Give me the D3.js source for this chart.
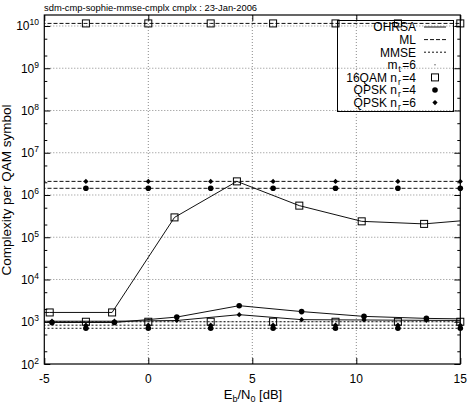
<!DOCTYPE html>
<html>
<head>
<meta charset="utf-8">
<script src="https://cdn.jsdelivr.net/npm/d3@7"></script>
<style>
  body { margin: 0; background: #fff; }
  text { font-family: "Liberation Sans", Arial, sans-serif; fill: #000; }
</style>
</head>
<body>
<div id="chart"></div>
<script>
// ---- data ----
const ebnoGrid = [-6, -3, 0, 3, 6, 9, 12, 15];
const ml16qam   = [1.15e10, 1.15e10, 1.15e10, 1.15e10, 1.15e10, 1.15e10, 1.15e10, 1.15e10];
const mlQpsk4   = [1.44e6, 1.44e6, 1.44e6, 1.44e6, 1.44e6, 1.44e6, 1.44e6, 1.44e6];
const mlQpsk6   = [2.1e6, 2.1e6, 2.1e6, 2.1e6, 2.1e6, 2.1e6, 2.1e6, 2.1e6];
const mmse16qam = [1.0e3, 1.0e3, 1.0e3, 1.0e3, 1.0e3, 1.0e3, 1.0e3, 1.0e3];
const mmseQpsk4 = [700, 700, 700, 700, 700, 700, 700, 700];
const mmseQpsk6 = [830, 830, 830, 830, 830, 830, 830, 830];

const ebno16qam  = [-7.74, -4.74, -1.74, 1.26, 4.26, 7.26, 10.26, 13.26, 16.26];
const ohrsa16qam = [1.66e3, 1.66e3, 1.66e3, 2.95e5, 2.1e6, 5.6e5, 2.38e5, 2.07e5, 2.75e5];
const ebnoQpsk   = [-7.63, -4.63, -1.63, 1.37, 4.37, 7.37, 10.37, 13.37, 16.37];
const ohrsaQpsk4 = [960, 960, 960, 1.29e3, 2.4e3, 1.74e3, 1.34e3, 1.2e3, 1.15e3];
const ohrsaQpsk6 = [1.03e3, 1.03e3, 1.03e3, 1.07e3, 1.47e3, 1.12e3, 1.1e3, 1.08e3, 1.07e3];

const xTicks = [-5, 0, 5, 10, 15];
const yTickExps = [2, 3, 4, 5, 6, 7, 8, 9, 10];
const yMinorMult = [2, 5];
const legendRows = ["OHRSA", "ML", "MMSE", "mt=6", "16QAM nr=4", "QPSK nr=4", "QPSK nr=6"];

const W = 474, H = 404;
const pLeft = 44.3, pRight = 460.3, pTop = 15, pBottom = 364;

const svg = d3.select("#chart").append("svg")
  .attr("width", W).attr("height", H)
  .attr("viewBox", `0 0 ${W} ${H}`);

const x = d3.scaleLinear().domain([-5, 15]).range([pLeft, pRight]);
const y = d3.scaleLog().domain([1e2, Math.pow(10, 10.26)]).range([pBottom, pTop]);

svg.append("defs").append("clipPath").attr("id", "plotclip")
  .append("rect").attr("x", pLeft).attr("y", pTop)
  .attr("width", pRight - pLeft).attr("height", pBottom - pTop);

// title
svg.append("text").attr("x", 44).attr("y", 10.5)
  .style("font-size", "9.4px")
  .text("sdm-cmp-sophie-mmse-cmplx cmplx : 23-Jan-2006");

// grid
const grid = svg.append("g").attr("stroke", "#8a8a8a").attr("stroke-width", 1)
  .attr("stroke-dasharray", "1,2").attr("fill", "none");
xTicks.filter(t => t > -5 && t < 15).forEach(t => {
  grid.append("line").attr("x1", x(t)).attr("x2", x(t)).attr("y1", pTop).attr("y2", pBottom);
});
yTickExps.filter(e => e > 2).forEach(e => {
  grid.append("line").attr("x1", pLeft).attr("x2", pRight)
    .attr("y1", y(Math.pow(10, e))).attr("y2", y(Math.pow(10, e)));
});

// axes via d3 axis generators (inward ticks, mirrored)
const yMajor = yTickExps.map(e => Math.pow(10, e));
const yMinor = [];
yTickExps.forEach(e => yMinorMult.forEach(m => {
  const v = m * Math.pow(10, e);
  if (v < y.domain()[1]) yMinor.push(v);
}));

function tickStyle(g) {
  g.select(".domain").remove();
  g.selectAll("line").attr("stroke", "#000");
  g.selectAll("text").remove();
}
svg.append("g").attr("transform", `translate(${pLeft},0)`)
  .call(d3.axisRight(y).tickValues(yMajor).tickSize(6)).call(tickStyle);
svg.append("g").attr("transform", `translate(${pLeft},0)`)
  .call(d3.axisRight(y).tickValues(yMinor).tickSize(3)).call(tickStyle);
svg.append("g").attr("transform", `translate(${pRight},0)`)
  .call(d3.axisLeft(y).tickValues(yMajor).tickSize(6)).call(tickStyle);
svg.append("g").attr("transform", `translate(${pRight},0)`)
  .call(d3.axisLeft(y).tickValues(yMinor).tickSize(3)).call(tickStyle);
svg.append("g").attr("transform", `translate(0,${pBottom})`)
  .call(d3.axisTop(x).tickValues(xTicks).tickSize(6)).call(tickStyle);
svg.append("g").attr("transform", `translate(0,${pTop})`)
  .call(d3.axisBottom(x).tickValues(xTicks).tickSize(6)).call(tickStyle);

// tick labels
yTickExps.forEach(e => {
  const t = svg.append("text").attr("x", 39).attr("y", y(Math.pow(10, e)) + 4.5)
    .attr("text-anchor", "end").style("font-size", "12px");
  t.append("tspan").text("10");
  t.append("tspan").attr("dy", -5).style("font-size", "8.5px").text(e);
});
xTicks.forEach(t => {
  svg.append("text").attr("x", x(t)).attr("y", 382.5)
    .attr("text-anchor", "middle").style("font-size", "12px").text(t);
});

// axis titles
const xl = svg.append("text").attr("x", 253).attr("y", 399)
  .attr("text-anchor", "middle").style("font-size", "13px");
xl.append("tspan").text("E");
xl.append("tspan").attr("dy", 3).style("font-size", "9px").text("b");
xl.append("tspan").attr("dy", -3).text("/N");
xl.append("tspan").attr("dy", 3).style("font-size", "9px").text("0");
xl.append("tspan").attr("dy", -3).text(" [dB]");

svg.append("text").attr("transform", "translate(11,190) rotate(-90)")
  .attr("text-anchor", "middle").style("font-size", "13.5px")
  .text("Complexity per QAM symbol");

// series
const plot = svg.append("g").attr("clip-path", "url(#plotclip)");
const line = d3.line().x(d => x(d[0])).y(d => y(d[1]));
const zip = (xs, ys) => xs.map((v, i) => [v, ys[i]]);

const series = [
  { xs: ebnoGrid, ys: ml16qam,   dash: "4,2", mark: "square" },
  { xs: ebnoGrid, ys: mlQpsk4,   dash: "4,2", mark: "circle" },
  { xs: ebnoGrid, ys: mlQpsk6,   dash: "4,2", mark: "diamond" },
  { xs: ebnoGrid, ys: mmse16qam, dash: "2,2", mark: "square" },
  { xs: ebnoGrid, ys: mmseQpsk6, dash: "2,2", mark: "diamond" },
  { xs: ebnoGrid, ys: mmseQpsk4, dash: "2,2", mark: "circle" },
  { xs: ebno16qam, ys: ohrsa16qam, dash: null, mark: "square" },
  { xs: ebnoQpsk,  ys: ohrsaQpsk6, dash: null, mark: "diamond" },
  { xs: ebnoQpsk,  ys: ohrsaQpsk4, dash: null, mark: "circle" }
];

function drawMark(g, kind, cx, cy) {
  if (kind === "square") {
    g.append("rect").attr("x", cx - 3.5).attr("y", cy - 3.5)
      .attr("width", 7).attr("height", 7)
      .attr("fill", "none").attr("stroke", "#000").attr("stroke-width", 1);
  } else if (kind === "circle") {
    g.append("circle").attr("cx", cx).attr("cy", cy).attr("r", 2.8).attr("fill", "#000");
  } else if (kind === "diamond") {
    g.append("path").attr("d", `M${cx},${cy - 2.6}L${cx + 2.6},${cy}L${cx},${cy + 2.6}L${cx - 2.6},${cy}Z`)
      .attr("fill", "#000");
  } else if (kind === "dot") {
    g.append("rect").attr("x", cx - 0.5).attr("y", cy - 0.5).attr("width", 1).attr("height", 1)
      .attr("fill", "#000");
  }
}

series.forEach(s => {
  plot.append("path").datum(zip(s.xs, s.ys))
    .attr("d", line).attr("fill", "none")
    .attr("stroke", "#111").attr("stroke-width", 1)
    .attr("stroke-dasharray", s.dash);
});
const marks = svg.append("g");
series.forEach(s => {
  zip(s.xs, s.ys).filter(d => d[0] >= -5 && d[0] <= 15)
    .forEach(d => drawMark(marks, s.mark, x(d[0]), y(d[1])));
});

// border
svg.append("rect").attr("x", pLeft).attr("y", pTop)
  .attr("width", pRight - pLeft).attr("height", pBottom - pTop)
  .attr("fill", "none").attr("stroke", "#000").attr("stroke-width", 1.2);

// legend
const lg = svg.append("g");
lg.append("rect").attr("x", 337.5).attr("y", 20.5).attr("width", 116).attr("height", 91)
  .attr("fill", "none").attr("stroke", "#000").attr("stroke-width", 1);
const rowY = i => 27 + i * 12.6;
const legendStyle = [
  { dash: "", mark: null }, { dash: "4,2", mark: null }, { dash: "2,2", mark: null },
  { dash: null, mark: "dot" }, { dash: null, mark: "square" },
  { dash: null, mark: "circle" }, { dash: null, mark: "diamond" }
];
legendRows.forEach((label, i) => {
  const cy = rowY(i);
  const t = lg.append("text").attr("x", 416).attr("y", cy + 4.3)
    .attr("text-anchor", "end").style("font-size", "12px");
  const m = label.match(/^(.*?)([mn])([tr])(=.*)$/);
  if (m) {
    t.append("tspan").text(m[1] + m[2]);
    t.append("tspan").attr("dx", 1).attr("dy", 3).style("font-size", "8.5px").text(m[3]);
    t.append("tspan").attr("dx", 1.5).attr("dy", -3).text(m[4]);
  } else {
    t.text(label);
  }
  const st = legendStyle[i];
  if (st.dash !== null) {
    lg.append("line").attr("x1", 424).attr("x2", 446).attr("y1", cy).attr("y2", cy)
      .attr("stroke", "#111").attr("stroke-width", 1)
      .attr("stroke-dasharray", st.dash || null);
  } else {
    drawMark(lg, st.mark, 435, cy);
  }
});
</script>
</body>
</html>
